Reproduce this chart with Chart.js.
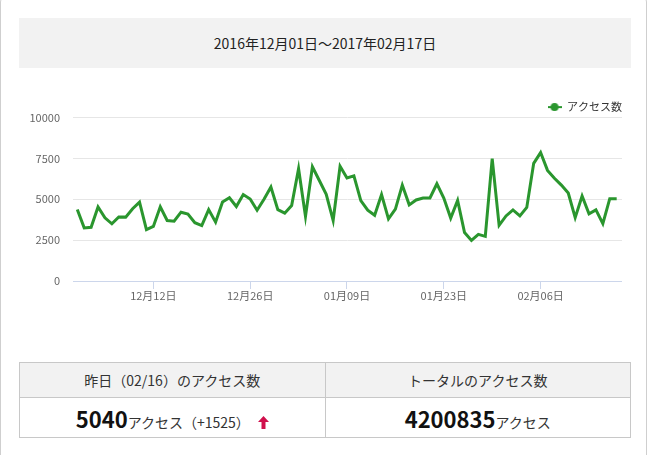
<!DOCTYPE html>
<html lang="ja">
<head>
<meta charset="utf-8">
<script src="https://cdn.jsdelivr.net/npm/chart.js@4/dist/chart.umd.min.js"></script>
<style>
  html, body { margin: 0; padding: 0; background: #fff; }
  body { width: 649px; height: 455px; overflow: hidden; position: relative;
         font-family: "Noto Sans CJK JP", "Noto Sans", sans-serif; color: #333; }
  .card { position: absolute; left: 0; top: -4px; width: 647px; height: 470px;
          border: 1px solid #cfcfcf; border-radius: 6px; box-sizing: border-box; }
  .period { position: absolute; left: 19px; top: 18px; width: 612px; height: 50px;
            background: #f2f2f2; text-align: center; line-height: 50px; font-size: 14px; color: #222; }
  .chartbox { position: absolute; left: 20px; top: 98px; width: 602px; height: 212px; }
  table.stats { position: absolute; left: 19px; top: 362px; width: 612px; border-collapse: collapse; table-layout: fixed; }
  table.stats th, table.stats td { border: 1px solid #c8c8c8; text-align: center; padding: 0; }
  table.stats th { background: #f2f2f2; height: 34px; font-weight: normal; font-size: 14px; color: #333; }
  table.stats td { height: 39px; font-size: 14px; color: #333; }
  .num { font-weight: bold; font-size: 22px; color: #111; }
  .arrow { display: inline-block; vertical-align: -1px; margin-left: 8px; }
</style>
</head>
<body>
<div class="card"></div>
<div class="period">2016年12月01日～2017年02月17日</div>
<div class="chartbox"><canvas id="c"></canvas></div>
<table class="stats">
  <tr><th>昨日（02/16）のアクセス数</th><th>トータルのアクセス数</th></tr>
  <tr>
    <td><span class="num">5040</span>アクセス（+1525）<svg class="arrow" width="11" height="13" viewBox="0 0 11 13"><path d="M5.5 0 L11 6 L7.5 6 L7.5 13 L3.5 13 L3.5 6 L0 6 Z" fill="#d0104c"/></svg></td>
    <td><span class="num">4200835</span>アクセス</td>
  </tr>
</table>
<script>
// Daily access counts, 2016-12-01 .. 2017-02-17 (79 days)
const seriesName = 'アクセス数';
const accessCounts = [
  4375, 3250, 3290, 4530, 3870, 3500, 3920, 3910, 4420, 4830,
  3140, 3340, 4540, 3700, 3660, 4210, 4100, 3570, 3390, 4370,
  3600, 4830, 5090, 4560, 5290, 5020, 4330, 5000, 5750, 4370,
  4150, 4620, 6870, 3950, 6990, 6150, 5300, 3700, 7020, 6300,
  6430, 4920, 4330, 4020, 5290, 3800, 4400, 5870, 4660, 4960,
  5080, 5080, 5950, 5080, 3850, 4930, 2970, 2480, 2850, 2730,
  7490, 3410, 3980, 4350, 3985, 4500, 7200, 7860, 6770, 6290,
  5870, 5380, 3880, 5200, 4110, 4350, 3515, 5040, 5040
];
const startDate = new Date(2016, 11, 1);
const dateLabels = accessCounts.map((_, i) => {
  const d = new Date(startDate.getFullYear(), startDate.getMonth(), startDate.getDate() + i);
  return String(d.getMonth() + 1).padStart(2, '0') + '月' + String(d.getDate()).padStart(2, '0') + '日';
});
const xTickIndices = [11, 25, 39, 53, 67];
const xTickLabels = ['12月12日', '12月26日', '01月09日', '01月23日', '02月06日'];
const yTicks = [0, 2500, 5000, 7500, 10000];

const lineColor = '#2a962e';
const FONT = '"Noto Sans CJK JP", "Noto Sans", sans-serif';

// legend symbol: line with a dot
const sym = document.createElement('canvas');
sym.width = 14; sym.height = 8;
(function () {
  const g = sym.getContext('2d');
  g.strokeStyle = lineColor; g.lineWidth = 2;
  g.beginPath(); g.moveTo(0, 4); g.lineTo(14, 4); g.stroke();
  g.fillStyle = lineColor;
  g.beginPath(); g.arc(7, 4, 4, 0, Math.PI * 2); g.fill();
})();

new Chart(document.getElementById('c'), {
  type: 'line',
  data: {
    datasets: [{
      label: seriesName,
      data: accessCounts.map((v, i) => ({ x: i, y: v, d: dateLabels[i] })),
      borderColor: lineColor,
      backgroundColor: lineColor,
      borderWidth: 3,
      pointRadius: 0,
      pointHoverRadius: 4,
      tension: 0,
      fill: false
    }]
  },
  options: {
    responsive: true,
    maintainAspectRatio: false,
    animation: false,
    layout: { padding: 0 },
    plugins: {
      legend: {
        position: 'top',
        align: 'end',
        maxHeight: 16,
        labels: {
          usePointStyle: true,
          pointStyleWidth: 14,
          padding: 0,
          color: '#333',
          font: { family: FONT, size: 11 },
          generateLabels(chart) {
            const items = Chart.defaults.plugins.legend.labels.generateLabels(chart);
            items.forEach(it => { it.pointStyle = sym; });
            return items;
          }
        }
      },
      tooltip: {
        callbacks: { title: items => items[0].raw.d }
      }
    },
    scales: {
      x: {
        type: 'linear',
        min: -0.62,
        max: 78.77,
        afterBuildTicks(scale) { scale.ticks = xTickIndices.map(v => ({ value: v })); },
        afterFit(scale) { scale.height = 29; },
        ticks: {
          autoSkip: false,
          maxRotation: 0,
          padding: 0,
          color: '#666',
          font: { family: FONT, size: 11 },
          callback: (value) => {
            const k = xTickIndices.indexOf(value);
            return k >= 0 ? xTickLabels[k] : '';
          }
        },
        grid: { drawOnChartArea: false, drawTicks: true, tickLength: 8, color: '#ccd6eb' },
        border: { display: true, color: '#ccd6eb', width: 1 }
      },
      y: {
        min: 0,
        max: 10000,
        afterBuildTicks(scale) { scale.ticks = yTicks.map(v => ({ value: v })); },
        afterFit(scale) { scale.width = 53; },
        ticks: {
          padding: 13,
          color: '#666',
          font: { family: FONT, size: 11 },
          callback: (value) => String(value)
        },
        grid: { color: '#e6e6e6', drawTicks: false },
        border: { display: false }
      }
    }
  }
});
</script>
</body>
</html>
